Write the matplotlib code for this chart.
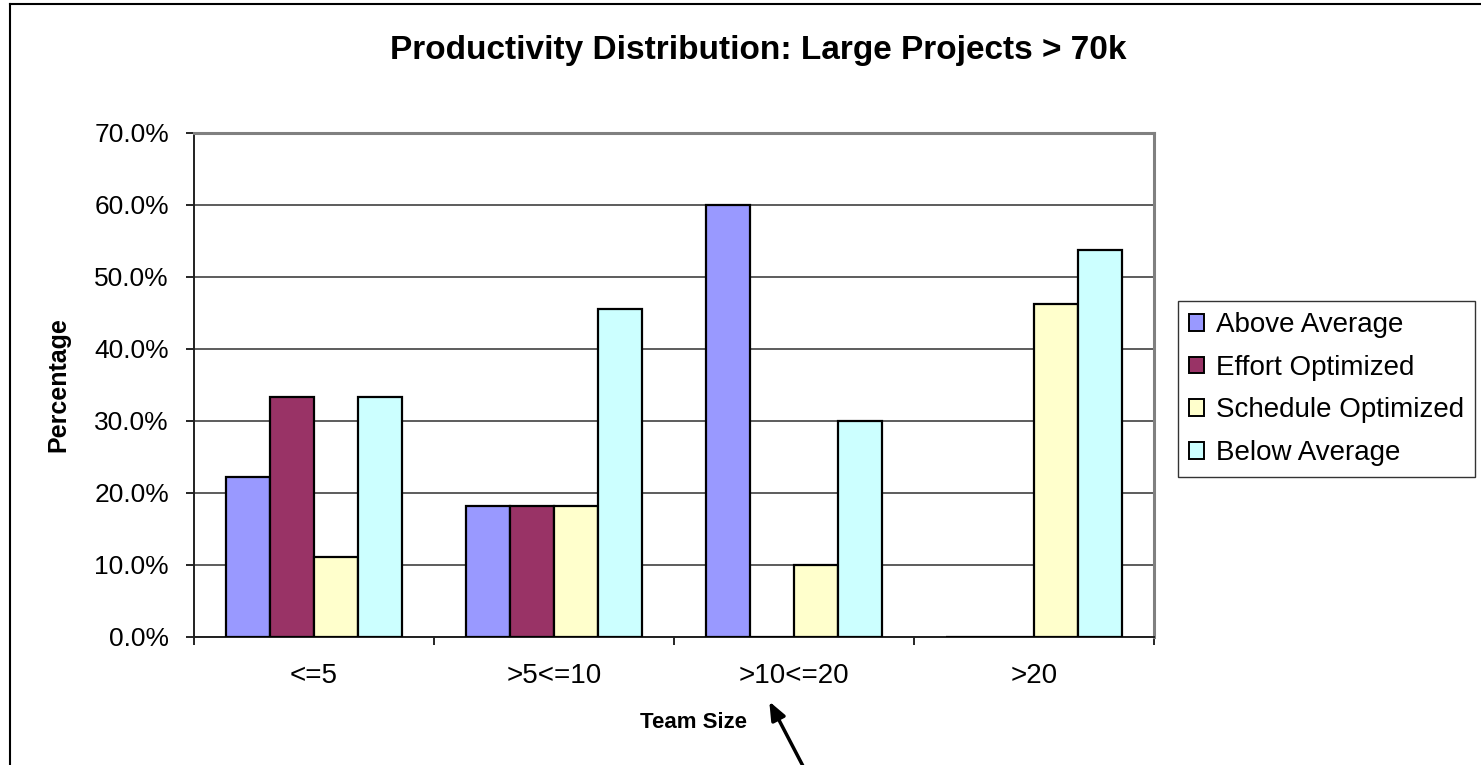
import numpy as np
import matplotlib
matplotlib.use('Agg')
import matplotlib.pyplot as plt
from matplotlib.lines import Line2D
from matplotlib.patches import Patch

plt.rcParams['font.family'] = ['Liberation Sans', 'DejaVu Sans']

# team size buckets and share of projects in each productivity class (%)
team_sizes = ['<=5', '>5<=10', '>10<=20', '>20']
above_average = [22.2, 18.2, 60.0, 0.0]
effort_optimized = [33.3, 18.2, 0.0, 0.0]
schedule_optimized = [11.1, 18.2, 10.0, 46.2]
below_average = [33.3, 45.5, 30.0, 53.8]

series_names = ['Above Average', 'Effort Optimized', 'Schedule Optimized', 'Below Average']
series_vals = [above_average, effort_optimized, schedule_optimized, below_average]
colors = ['#9999FF', '#993366', '#FFFFCC', '#CCFFFF']

W, H = 1481, 765
fig = plt.figure(figsize=(W / 100, H / 100), dpi=100)
ax = fig.add_axes([194 / W, 1 - 637 / H, 960 / W, 504 / H])

x = np.arange(len(team_sizes))
bw = 0.183
for i, (vals, c) in enumerate(zip(series_vals, colors)):
    ax.bar(x + (i - 1.5) * bw, vals, bw, color=c, edgecolor='black', linewidth=1.6, zorder=3)

ax.set_xlim(-0.5, len(team_sizes) - 0.5)
ax.set_ylim(0, 70)
ax.set_yticks(np.arange(0, 71, 10))
ax.set_yticklabels(['%.1f%%' % v for v in np.arange(0, 71, 10)], fontsize=19)
ax.yaxis.grid(True, color='#303030', linewidth=1.1, zorder=0)

ax.set_xticks(x)
ax.set_xticklabels(team_sizes, fontsize=20)
ax.set_xticks(np.arange(-0.5, len(team_sizes)), minor=True)
ax.tick_params(axis='x', which='major', length=0, pad=19)
ax.tick_params(axis='x', which='minor', length=6, width=1.2, color='black', direction='out')
ax.tick_params(axis='y', length=6, width=1.2, pad=12, direction='out')

for s in ['left', 'bottom']:
    ax.spines[s].set_color('#202020')
    ax.spines[s].set_linewidth(1.4)
for s in ['top', 'right']:
    ax.spines[s].set_color('#808080')
    ax.spines[s].set_linewidth(2.2)

fig.text(758 / W, 1 - 51 / H, 'Productivity Distribution: Large Projects > 70k',
         ha='center', va='center', fontsize=24, fontweight='bold')
fig.text(58 / W, 1 - 385 / H, 'Percentage', rotation=90, ha='center', va='center',
         fontsize=18, fontweight='bold')
fig.text(693 / W, 1 - 722 / H, 'Team Size', ha='center', va='center',
         fontsize=16, fontweight='bold')

handles = [Patch(facecolor=c, edgecolor='black', linewidth=1.4) for c in colors]
leg = fig.legend(handles, series_names, loc='upper left',
                 bbox_to_anchor=(1178 / W, 1 - 301 / H), fontsize=20,
                 frameon=True, fancybox=False, handlelength=0.55, handleheight=0.55,
                 handletextpad=0.4, labelspacing=0.6, borderpad=0.4,
                 borderaxespad=0)
leg.get_frame().set_edgecolor('black')
leg.get_frame().set_linewidth(1.0)

# outer chart frame (left and top edges)
fig.add_artist(Line2D([10 / W, 10 / W], [0, 1 - 4 / H], color='black', linewidth=1.5))
fig.add_artist(Line2D([10 / W, 1], [1 - 4 / H, 1 - 4 / H], color='black', linewidth=1.5))

# pointer to the >10<=20 bucket
ax.annotate('', xy=(768 / W, 1 - 699 / H), xycoords='figure fraction',
            xytext=(804 / W, 1 - 768 / H), textcoords='figure fraction',
            arrowprops=dict(arrowstyle='-|>,head_length=1.1,head_width=0.45',
                            color='black', linewidth=2.5),
            annotation_clip=False)

fig.savefig('out.png', dpi=100)
